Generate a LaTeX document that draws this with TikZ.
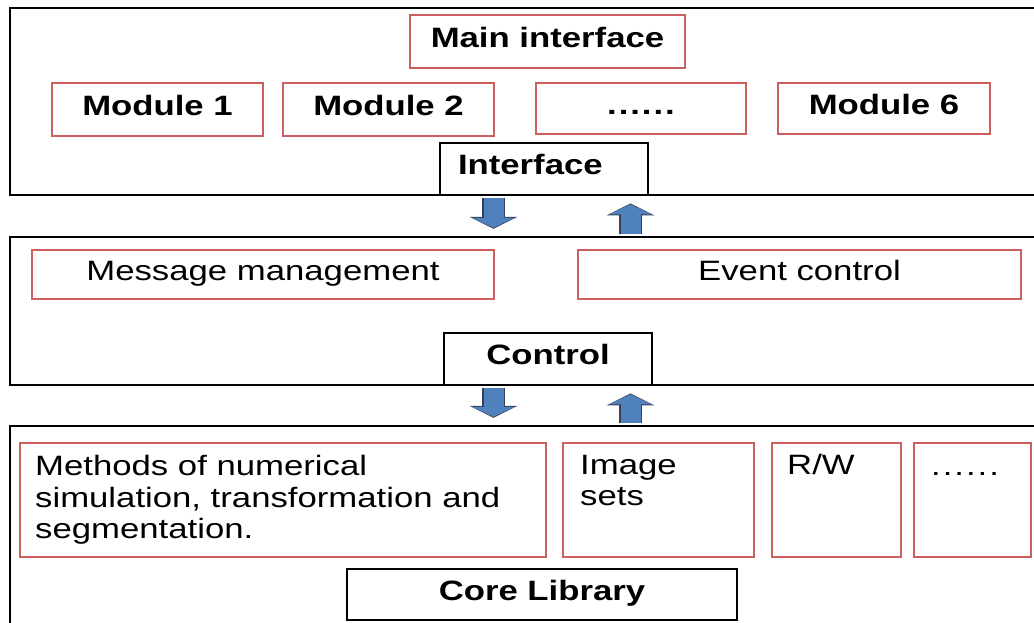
\documentclass[tikz,border=0pt]{standalone}
\usepackage{fontspec}
\setmainfont{Liberation Sans}[FakeStretch=1.24]
\usetikzlibrary{arrows.meta}

\definecolor{boxred}{RGB}{205,95,95}
\definecolor{arrowblue}{RGB}{79,129,189}
\definecolor{arrowedge}{RGB}{55,65,85}

\newcommand{\morerows}{{\addfontfeature{LetterSpace=7}......}}

\begin{document}
\begin{tikzpicture}[x=1pt, y=-1pt, >=latex, font=\fontsize{28}{31.5}\selectfont]
        \tikzset{
            layer/.style={draw, line width=2.5pt, minimum width=1050pt, inner sep=0pt},
            part/.style={draw=boxred, line width=1.4pt, minimum height=53pt, inner sep=0pt, text height=21pt, text depth=10pt},
            stage/.style={draw, line width=2.8pt, fill=white, minimum height=52pt, inner sep=0pt, text height=21pt, text depth=10pt, font=\fontsize{28}{31.5}\selectfont\bfseries},
            cell/.style={draw=boxred, line width=1.4pt, minimum height=114pt, inner sep=0pt},
            note/.style={inner sep=0pt, align=left},
            fatarrow/.style={draw=arrowblue, line width=20pt, -{Triangle[width=43pt, length=10pt, line width=0pt]}, shorten <=1.4pt, shorten >=8pt,
                preaction={draw=arrowedge, line width=23pt, -{Triangle[width=48pt, length=12pt, line width=0pt]}, shorten <=1.4pt, shorten >=7pt}}
        }
        \useasboundingbox (0,0) rectangle (1034,622);
        \clip (0,0) rectangle (1034,622);

        % three layers, cut at the right
        \node[layer, minimum height=187pt] (uilayer) at (535, 101.5) {};
        \node[layer, minimum height=148pt] (ctrllayer) at (535, 311) {};
        \node[layer, minimum height=214pt] (corelayer) at (535, 533) {};

        % interface layer
        \node[part, minimum width=275pt, font=\fontsize{28}{31.5}\selectfont\bfseries] (mainui) at (547.5, 41.5) {Main interface};
        \node[part, minimum width=211pt, font=\fontsize{28}{31.5}\selectfont\bfseries] (mod1) at (157.5, 109.5) {Module 1};
        \node[part, minimum width=211pt, font=\fontsize{28}{31.5}\selectfont\bfseries] (mod2) at (388.5, 109.5) {Module 2};
        \node[part, minimum width=210pt, minimum height=51pt, font=\fontsize{28}{31.5}\selectfont\bfseries] (moddots) at (641, 108.5) {\morerows};
        \node[part, minimum width=212pt, minimum height=51pt, font=\fontsize{28}{31.5}\selectfont\bfseries] (mod6) at (884, 108.5) {Module 6};
        \node[stage, minimum width=208pt, text width=172pt, inner xsep=18pt, align=left] (iface) at (544, 169) {Interface};

        % control layer
        \node[part, minimum width=462pt, minimum height=49pt] (msgmgmt) at (263, 274.5) {Message management};
        \node[part, minimum width=443pt, minimum height=49pt] (evtctrl) at (799.5, 274.5) {Event control};
        \node[stage, minimum width=208pt] (ctrl) at (548, 359) {Control};

        % core layer
        \node[cell, minimum width=526pt] (methods) at (283, 500) {};
        \node[cell, minimum width=191pt] (imgsets) at (658.5, 500) {};
        \node[cell, minimum width=129pt] (rw) at (836.5, 500) {};
        \node[cell, minimum width=117pt] (coredots) at (972.5, 500) {};
        \node[note, anchor=north west] (methodstxt) at (35, 455.5) {Methods of numerical\\simulation, transformation and\\segmentation.};
        \node[note, anchor=north west] (imgsetstxt) at (580, 455) {Image\\sets};
        \node[note, anchor=base west] (rwtxt) at (787, 474) {R/W};
        \node[note, anchor=base west] (coredotstxt) at (931, 475) {\morerows};
        \node[stage, minimum width=390pt, minimum height=51pt] (corelib) at (542, 594.5) {Core Library};

        % flow between layers
        \coordinate (dn1) at (493.5, 0);
        \coordinate (up1) at (630.5, 0);
        \draw[fatarrow] (iface.south -| dn1) -- (ctrllayer.north -| dn1);
        \draw[fatarrow] (ctrllayer.north -| up1) -- (iface.south -| up1);
        \draw[fatarrow] (ctrl.south -| dn1) -- (corelayer.north -| dn1);
        \draw[fatarrow] (corelayer.north -| up1) -- (ctrl.south -| up1);
    \end{tikzpicture}
\end{document}
